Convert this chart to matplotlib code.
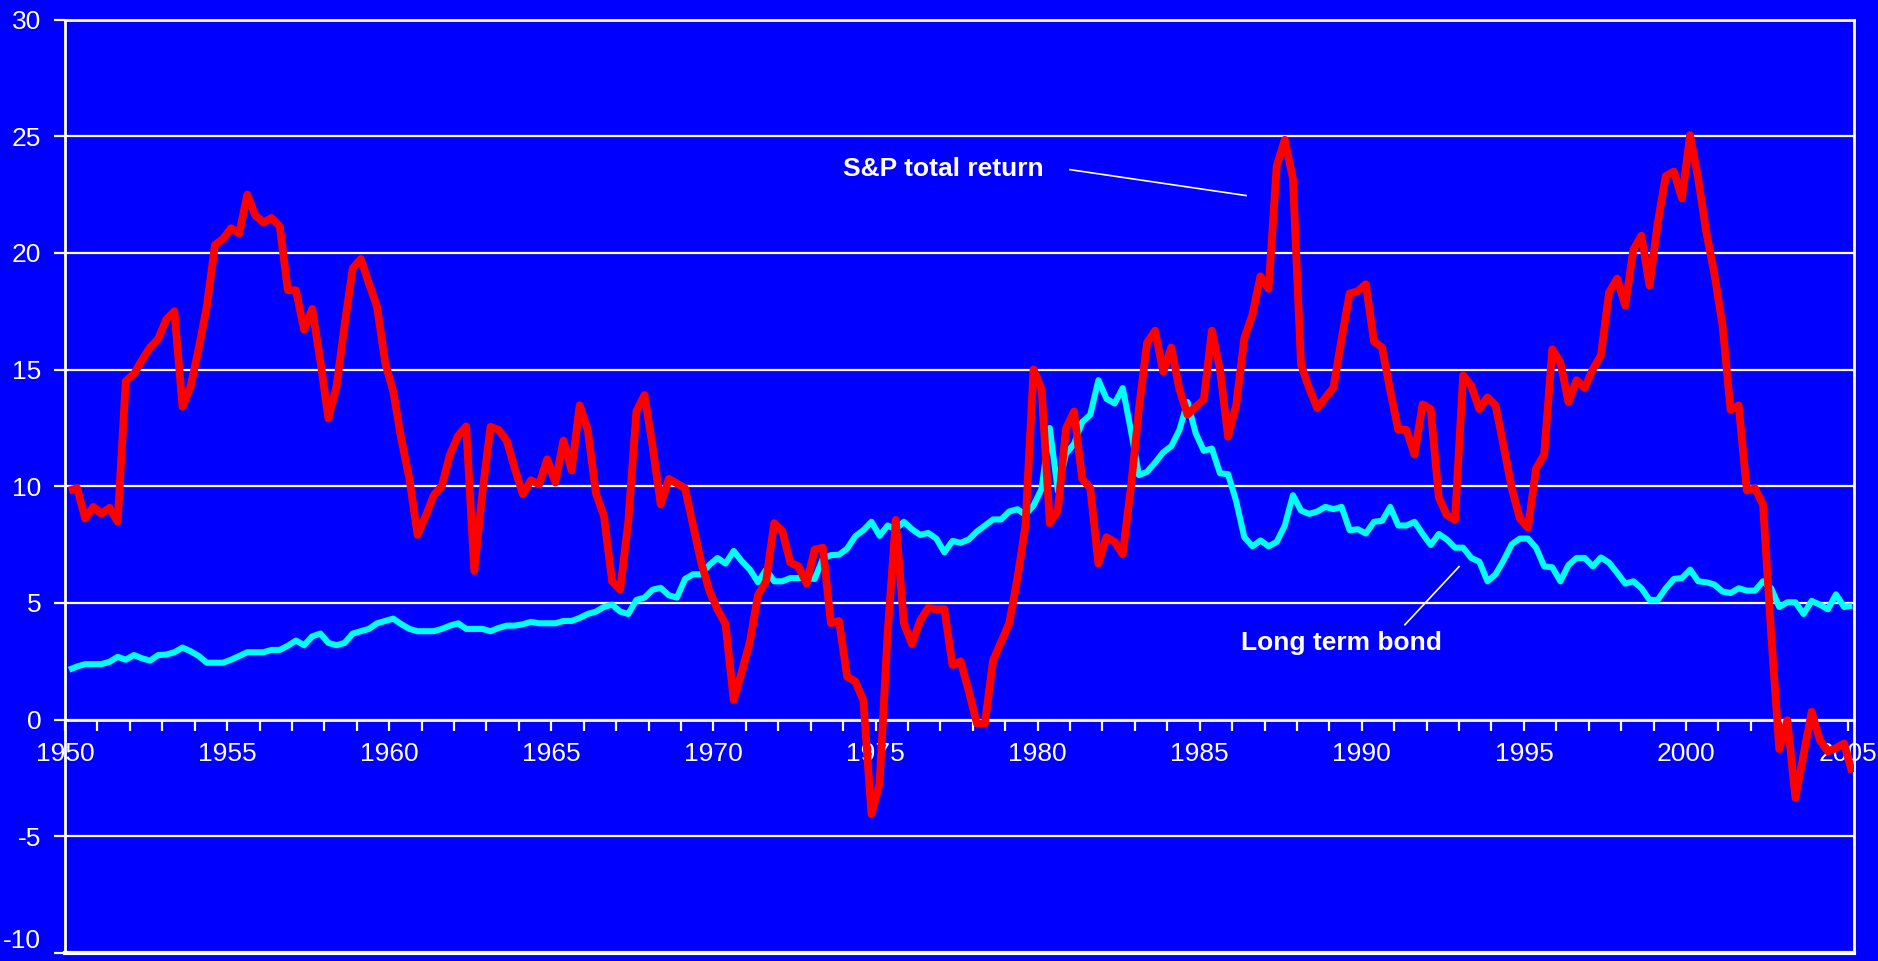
import numpy as np
import matplotlib.pyplot as plt
from matplotlib.ticker import FixedLocator, FuncFormatter

# Quarterly series, 1950Q1 - 2005Q1 (percent)
sp_total_return = [
    9.82, 9.92, 8.62, 9.12, 8.82, 9.08, 8.48, 14.51, 14.81, 15.41,
    15.95, 16.31, 17.15, 17.50, 13.41, 14.27, 15.91, 17.70, 20.34, 20.60,
    21.06, 20.84, 22.50, 21.60, 21.30, 21.50, 21.14, 18.40, 18.40, 16.71,
    17.60, 15.40, 12.91, 14.27, 16.91, 19.34, 19.74, 18.70, 17.70, 15.31,
    14.07, 12.02, 10.32, 7.92, 8.72, 9.62, 10.02, 11.36, 12.16, 12.57,
    6.37, 9.72, 12.55, 12.42, 11.96, 10.76, 9.66, 10.26, 10.08, 11.16,
    10.16, 11.96, 10.68, 13.47, 12.42, 9.72, 8.72, 5.93, 5.57, 8.48,
    13.21, 13.91, 11.72, 9.22, 10.32, 10.12, 9.92, 8.32, 6.73, 5.53,
    4.73, 4.09, 0.84, 2.04, 3.33, 5.33, 5.93, 8.42, 8.08, 6.73,
    6.57, 5.83, 7.29, 7.37, 4.13, 4.23, 1.84, 1.64, 0.84, -4.05,
    -2.75, 3.73, 8.56, 4.13, 3.23, 4.23, 4.79, 4.73, 4.73, 2.34,
    2.50, 1.24, -0.16, -0.16, 2.53, 3.33, 4.13, 6.03, 8.32, 15.01,
    14.15, 8.42, 8.96, 12.47, 13.21, 10.32, 9.92, 6.69, 7.82, 7.62,
    7.09, 9.92, 13.31, 16.15, 16.67, 14.91, 15.95, 14.15, 13.07, 13.41,
    13.71, 16.67, 15.01, 12.12, 13.47, 16.35, 17.35, 19.00, 18.46, 23.73,
    24.85, 23.19, 15.21, 14.21, 13.35, 13.79, 14.23, 16.30, 18.26, 18.36,
    18.66, 16.21, 15.95, 14.11, 12.42, 12.42, 11.36, 13.51, 13.31, 9.52,
    8.76, 8.56, 14.75, 14.31, 13.31, 13.81, 13.47, 11.72, 9.92, 8.62,
    8.22, 10.76, 11.36, 15.87, 15.31, 13.61, 14.55, 14.21, 15.01, 15.61,
    18.30, 18.90, 17.74, 20.14, 20.74, 18.60, 21.26, 23.29, 23.49, 22.34,
    25.05, 23.19, 20.90, 19.10, 16.91, 13.27, 13.47, 9.82, 9.92, 9.22,
    3.70, -1.26, -0.02, -3.35, -1.50, 0.34, -0.86, -1.36, -1.22, -1.02,
    -2.26,
]

long_term_bond = [
    2.14, 2.28, 2.38, 2.38, 2.38, 2.48, 2.69, 2.57, 2.77, 2.63,
    2.53, 2.77, 2.79, 2.89, 3.09, 2.93, 2.73, 2.44, 2.44, 2.44,
    2.57, 2.73, 2.89, 2.89, 2.89, 2.99, 2.99, 3.17, 3.39, 3.19,
    3.57, 3.69, 3.29, 3.19, 3.29, 3.69, 3.79, 3.89, 4.13, 4.23,
    4.33, 4.09, 3.89, 3.79, 3.79, 3.79, 3.89, 4.03, 4.13, 3.89,
    3.89, 3.89, 3.79, 3.93, 4.03, 4.03, 4.09, 4.19, 4.13, 4.13,
    4.13, 4.23, 4.23, 4.36, 4.53, 4.63, 4.83, 4.93, 4.63, 4.53,
    5.13, 5.23, 5.57, 5.65, 5.33, 5.23, 6.03, 6.23, 6.23, 6.63,
    6.93, 6.69, 7.23, 6.79, 6.43, 5.89, 6.43, 5.93, 5.93, 6.07,
    6.07, 6.07, 6.03, 6.89, 7.05, 7.07, 7.33, 7.86, 8.12, 8.48,
    7.88, 8.32, 8.16, 8.48, 8.16, 7.92, 8.00, 7.76, 7.17, 7.66,
    7.58, 7.72, 8.06, 8.32, 8.58, 8.58, 8.92, 9.02, 8.78, 9.18,
    9.90, 12.50, 9.80, 11.40, 11.82, 12.75, 13.07, 14.55, 13.75, 13.55,
    14.21, 12.42, 10.48, 10.62, 11.02, 11.46, 11.72, 12.42, 13.61, 12.28,
    11.52, 11.62, 10.56, 10.52, 9.36, 7.82, 7.43, 7.68, 7.43, 7.62,
    8.32, 9.62, 8.96, 8.82, 8.92, 9.12, 9.02, 9.12, 8.12, 8.16,
    7.98, 8.48, 8.52, 9.12, 8.32, 8.32, 8.48, 7.96, 7.49, 7.96,
    7.72, 7.37, 7.37, 6.93, 6.77, 5.93, 6.23, 6.83, 7.52, 7.76,
    7.76, 7.37, 6.57, 6.53, 5.93, 6.63, 6.93, 6.93, 6.57, 6.95,
    6.73, 6.29, 5.83, 5.93, 5.63, 5.13, 5.13, 5.63, 6.03, 6.07,
    6.43, 5.93, 5.89, 5.79, 5.49, 5.43, 5.63, 5.53, 5.53, 5.93,
    5.63, 4.83, 5.03, 5.03, 4.53, 5.09, 4.93, 4.73, 5.37, 4.83,
    4.89,
]

# mid-quarter dates
quarters = 1950 + (np.arange(len(sp_total_return)) + 0.5) / 4
years = np.arange(1950, 2006)

BLUE = '#0000FF'
plt.rcParams['font.family'] = ['Liberation Sans', 'DejaVu Sans']
plt.rcParams['axes.unicode_minus'] = False

fig = plt.figure(figsize=(18.78, 9.61), dpi=100, facecolor=BLUE)
ax = fig.add_axes([0.0346, 0.0083, 0.9526, 0.9713])
ax.set_facecolor(BLUE)

ax.plot(quarters, long_term_bond, color='#00FFFF', lw=4.4, zorder=3,
        solid_joinstyle='round', solid_capstyle='butt')
ax.plot(quarters, sp_total_return, color='#FF0000', lw=5.6, zorder=4,
        solid_joinstyle='round', solid_capstyle='butt')

ax.set_xlim(1950, 2005.18)
ax.set_ylim(-10, 30)

# y axis: gridlines every 5
ax.set_yticks(np.arange(-10, 31, 5))
ax.yaxis.grid(True, color='white', lw=1.6)
ax.tick_params(axis='y', colors='white', labelsize=19, length=8, width=1.6,
               direction='out', pad=9)

# x axis crosses at zero, yearly ticks, labels every 5 years
ax.spines['bottom'].set_position(('data', 0))
ax.xaxis.set_major_locator(FixedLocator(years))
ax.xaxis.set_major_formatter(FuncFormatter(
    lambda v, pos: f'{int(round(v))}' if int(round(v)) % 5 == 0 else ''))
ax.tick_params(axis='x', colors='white', labelsize=19, length=8, width=1.6,
               direction='out', pad=8)

for side in ['left', 'right', 'top', 'bottom']:
    ax.spines[side].set_color('white')
    ax.spines[side].set_linewidth(2)
ax.axhline(-10, color='white', lw=3, clip_on=False)

# keep the bottom y label inside the canvas
fig.canvas.draw()
ax.get_yticklabels()[0].set_verticalalignment('bottom')

# series labels with leader lines
ax.text(1974.0, 23.6, 'S&P total return', color='white', fontsize=19,
        fontweight='bold', ha='left', va='center')
ax.plot([1981.0, 1986.43], [23.57, 22.46], color='white', lw=1.2)

ax.text(1986.27, 3.3, 'Long term bond', color='white', fontsize=19,
        fontweight='bold', ha='left', va='center')
ax.plot([1991.33, 1993.0], [4.07, 6.56], color='white', lw=1.2)

fig.savefig('out.png', dpi=100, facecolor=BLUE)
